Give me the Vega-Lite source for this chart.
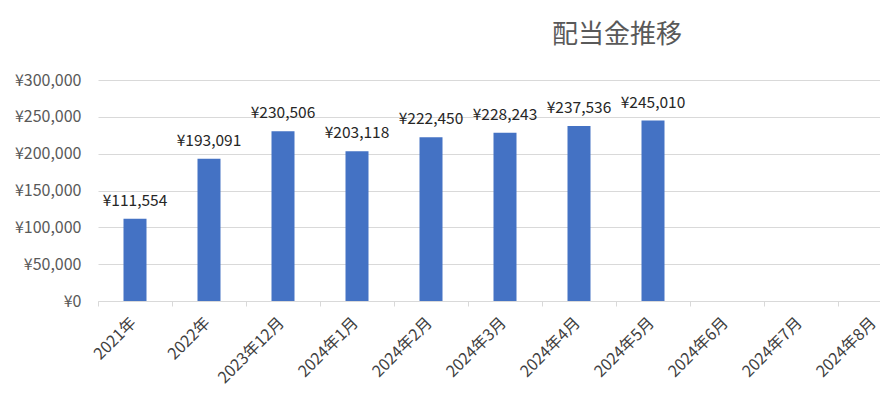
{
  "$schema": "https://vega.github.io/schema/vega-lite/v6.json",
  "autosize": "none",
  "width": 782,
  "height": 221,
  "padding": {"left": 98, "top": 80, "right": 0, "bottom": 113},
  "background": "white",
  "config": {
    "view": {"stroke": null},
    "font": "Noto Sans CJK JP",
    "locale": {"number": {"decimal": ".", "thousands": ",", "grouping": [3], "currency": ["¥", ""]}}
  },
  "title": {
    "text": "配当金推移",
    "anchor": "middle",
    "frame": "group",
    "dx": 128,
    "offset": 24,
    "fontSize": 26,
    "fontWeight": "normal",
    "color": "#595959",
    "font": "Noto Sans CJK JP"
  },
  "data": {
    "values": [
      {"period": "2021年", "value": 111554},
      {"period": "2022年", "value": 193091},
      {"period": "2023年12月", "value": 230506},
      {"period": "2024年1月", "value": 203118},
      {"period": "2024年2月", "value": 222450},
      {"period": "2024年3月", "value": 228243},
      {"period": "2024年4月", "value": 237536},
      {"period": "2024年5月", "value": 245010},
      {"period": "2024年6月", "value": null},
      {"period": "2024年7月", "value": null},
      {"period": "2024年8月", "value": null}
    ]
  },
  "encoding": {
    "x": {
      "field": "period",
      "type": "nominal",
      "sort": null,
      "title": null,
      "scale": {
        "domain": ["2021年", "2022年", "2023年12月", "2024年1月", "2024年2月", "2024年3月", "2024年4月", "2024年5月", "2024年6月", "2024年7月", "2024年8月"],
        "range": [0, 814],
        "paddingInner": 0,
        "paddingOuter": 0
      },
      "axis": {
        "labelAngle": -45,
        "labelAlign": "right",
        "labelBaseline": "middle",
        "labelFontSize": 16,
        "labelColor": "#404040",
        "labelPadding": 14,
        "labelOffset": -2,
        "labelOverlap": false,
        "tickBand": "extent",
        "tickSize": 5,
        "tickColor": "#d9d9d9",
        "domainColor": "#d9d9d9",
        "grid": false
      }
    },
    "y": {
      "field": "value",
      "type": "quantitative",
      "title": null,
      "scale": {"domain": [0, 300000]},
      "axis": {
        "values": [0, 50000, 100000, 150000, 200000, 250000, 300000],
        "format": "$,.0f",
        "labelFontSize": 16,
        "labelColor": "#595959",
        "labelPadding": 17,
        "ticks": false,
        "tickSize": 0,
        "domain": false,
        "gridColor": "#d9d9d9"
      }
    }
  },
  "layer": [
    {"mark": {"type": "bar", "width": 23, "color": "#4472C4"}},
    {
      "mark": {"type": "text", "baseline": "alphabetic", "dy": -13, "fontSize": 15.5, "color": "#262626"},
      "encoding": {"text": {"field": "value", "type": "quantitative", "format": "$,.0f"}}
    }
  ]
}
